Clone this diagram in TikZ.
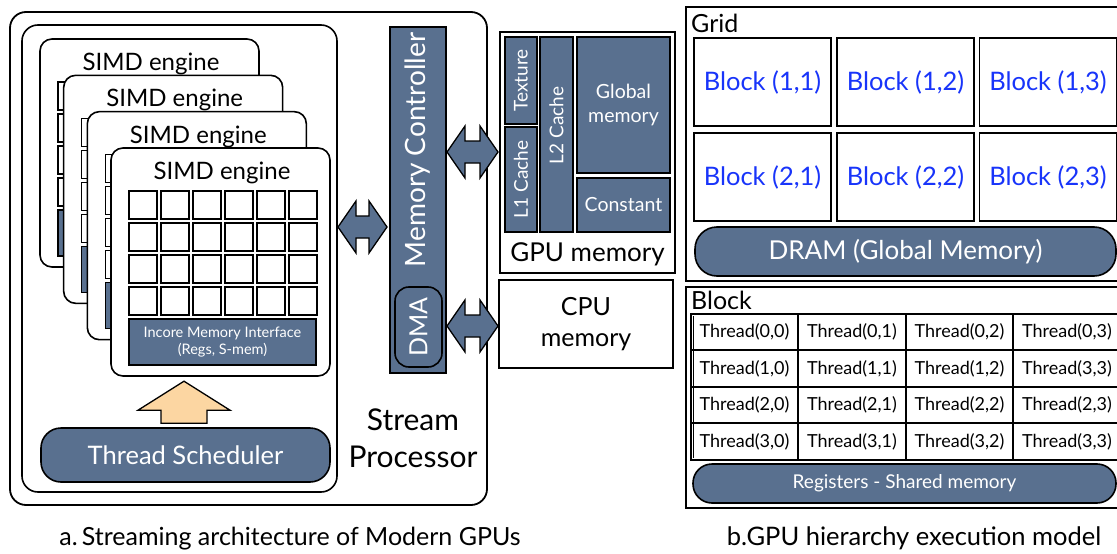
\documentclass[tikz,border=0pt]{standalone}
\usepackage{fontspec}
\setmainfont{Lato}
\usetikzlibrary{calc}
\definecolor{slate}{RGB}{89,112,143}
\definecolor{peach}{RGB}{252,214,162}
\definecolor{blockblue}{RGB}{24,52,250}
\newcommand{\fsz}[1]{\fontsize{#1}{#1}\selectfont}
% horizontal block double arrow starting at its left tip
\newcommand{\dblarrow}[2]{%
  \draw[dblarr] (#1) -- ++(18,-26) -- ++(0,15) -- ++(#2,0) -- ++(0,-15)
    -- ++(18,26) -- ++(-18,26) -- ++(0,-15) -- ++(-#2,0) -- ++(0,15) -- cycle;}
\tikzset{
  frame/.style={draw, line width=1.6, fill=white, inner sep=0},
  roundframe/.style={frame, rounded corners=14},
  engine/.style={frame, rounded corners=12, minimum width=219, minimum height=228},
  cell/.style={draw, line width=1.6, fill=white, minimum width=28, minimum height=28, inner sep=0},
  slatebox/.style={draw, line width=1.5, fill=slate, text=white, inner sep=0},
  pill/.style={slatebox, line width=1.6},
  dblarr/.style={draw, line width=1.3, fill=slate, line join=miter},
  uparr/.style={draw, line width=1.3, fill=peach, line join=miter},
  blk/.style={draw, line width=1.6, minimum width=137, minimum height=88, inner sep=0,
    text=blockblue, font=\fsz{25.5}},
  tcell/.style={draw, line width=1.1, minimum height=36.5, inner sep=0, font=\fsz{18}},
  lbl/.style={inner sep=0, font=\fsz{24}},
  vlbl/.style={inner sep=0, rotate=90, text=white, font=\fsz{19}},
}
\begin{document}
\begin{tikzpicture}[x=1pt, y=-1pt]
\useasboundingbox (0,0) rectangle (1117,554);
\clip (0,0) rectangle (1117,554);

% ---------- stream processor ----------
\node[roundframe, line width=1.8, rounded corners=16, minimum width=477, minimum height=493] (sp) at (248.5,258.5) {};
\node[roundframe, rounded corners=16, minimum width=315, minimum height=467] (core) at (179.5,258.5) {};

% stacked SIMD engines, back to front
\foreach \i in {0,1,2,3} {
  \pgfmathsetmacro\ex{40+23.67*\i}
  \pgfmathsetmacro\ey{39+36.33*\i}
  \node[engine] (eng\i) at (\ex+109.5,\ey+114) {};
  \node[lbl] (title\i) at (\ex+111,\ey+25) {SIMD engine};
  \foreach \r in {0,1,2,3} {
    \foreach \c in {0,...,5} {
      \node[cell] (cell\i-\r-\c) at (\ex+32+32*\c,\ey+57+32*\r) {};
    }
  }
  \node[slatebox, minimum width=187, minimum height=46, align=center, font=\fsz{14.5}]
    (inc\i) at (\ex+111.5,\ey+194) {Incore Memory Interface\\[2pt](Regs, S-mem)};
}

% thread scheduler and dispatch arrow
\node[pill, rounded corners=20, minimum width=289, minimum height=54, font=\fsz{25.5}] (ts) at (185.5,455) {Thread Scheduler};
\coordinate (upl) at ($(ts.north)+(-24.5,-4)$);
\draw[uparr] (upl) -- ++(0,-13) -- ++(-23,0) -- ++(46,-29) -- ++(46,29) -- ++(-23,0) -- ++(0,13) -- cycle;

% memory controller with DMA engine
\node[slatebox, line width=1.8, minimum width=56, minimum height=346] (mc) at (418,200) {};
\node[inner sep=0, rotate=90, text=white, font=\fsz{28}] (mclbl) at (418,150) {Memory Controller};
\node[slatebox, line width=1.6, rounded corners=14, minimum width=47, minimum height=80] (dma) at (418.5,327) {};
\node[inner sep=0, rotate=90, text=white, font=\fsz{25}] (dmalbl) at (418.5,327) {DMA};

\node[align=center, inner sep=0, font=\fsz{30}] (splbl) at (413,438) {Stream\\[7pt]Processor};

% ---------- GPU / CPU memory ----------
\node[frame, line width=1.6, minimum width=175, minimum height=241] (gm) at (587.5,152.5) {};
\node[slatebox, minimum width=32, minimum height=87] (tex) at (521,80.5) {};
\node[vlbl] at (tex) {Texture};
\node[slatebox, minimum width=32, minimum height=105] (l1) at (521,179.5) {};
\node[vlbl] at (l1) {L1 Cache};
\node[slatebox, minimum width=33, minimum height=195] (l2) at (556.5,134.5) {};
\node[vlbl] at ($(l2)+(0,-9)$) {L2 Cache};
\node[slatebox, minimum width=93, minimum height=136, align=center, font=\fsz{19.5}] (glob) at (623.5,105) {Global\\[4pt]memory};
\node[slatebox, minimum width=93, minimum height=54, font=\fsz{19.5}] (const) at (623.5,205) {Constant};
\node[inner sep=0, font=\fsz{26}] (gmlbl) at (587.5,254) {GPU memory};

\node[frame, minimum width=174, minimum height=88, align=center, font=\fsz{25}] (cm) at (586,324) {CPU\\[6pt]memory};

% data paths
\coordinate (arA) at (338,227);
\coordinate (arB) at (447,152);
\coordinate (arC) at (447,326);
\dblarrow{arA}{13}
\dblarrow{arB}{15}
\dblarrow{arC}{15}

% ---------- grid of blocks ----------
\node[frame, line width=1.8, minimum width=444, minimum height=274] (grid) at (908,144) {};
\node[inner sep=0, anchor=west, font=\fsz{25}] (gridlbl) at (691,23) {Grid};
\foreach \r/\y in {1/82,2/177} {
  \foreach \c/\x in {1/762.5,2/905.5,3/1048} {
    \node[blk] (b\r\c) at (\x,\y) {Block (\r,\c)};
  }
}
\node[pill, rounded corners=22, minimum width=421, minimum height=49, font=\fsz{26}] (dram) at (905.5,251.5) {DRAM (Global Memory)};

% ---------- block of threads ----------
\node[frame, line width=1.8, minimum width=444, minimum height=221] (blkp) at (908,397.5) {};
\node[inner sep=0, anchor=west, font=\fsz{25}] (blklbl) at (691,300) {Block};
\node[draw, line width=1.1, minimum width=434, minimum height=146, inner sep=0] (tbl) at (908,387) {};
\foreach \r/\y/\h in {0/332/36,1/368.5/37,2/405/36,3/441.5/37} {
  \node[tcell, minimum width=107, minimum height=\h] (t\r0) at (744.5,\y) {Thread(\r,0)};
  \node[tcell, minimum width=108, minimum height=\h] (t\r1) at (852,\y) {Thread(\r,1)};
  \node[tcell, minimum width=107, minimum height=\h] (t\r2) at (959.5,\y) {Thread(\r,2)};
}
\node[tcell, minimum width=112, minimum height=36, anchor=west] (t03) at (1013,332) {\hspace*{-5pt}Thread(0,3)};
\node[tcell, minimum width=112, minimum height=37, anchor=west] (t13) at (1013,368.5) {\hspace*{-5pt}Thread(3,3)};
\node[tcell, minimum width=112, minimum height=36, anchor=west] (t23) at (1013,405) {\hspace*{-5pt}Thread(2,3)};
\node[tcell, minimum width=112, minimum height=37, anchor=west] (t33) at (1013,441.5) {\hspace*{-5pt}Thread(3,3)};
\draw[line width=1.1] ($(tbl.north west)+(3,3)$) -- ($(tbl.south west)+(3,-3)$);
\node[pill, rounded corners=19, minimum width=423, minimum height=39, font=\fsz{19}] (regs) at (904.5,483.5) {Registers - Shared memory};

% ---------- captions ----------
\node[inner sep=0, anchor=base, font=\fsz{25}] (capa) at (290,545) {a.\,Streaming architecture of Modern GPUs};
\node[inner sep=0, anchor=base, font=\fsz{25.5}] (capb) at (914,545) {b.GPU hierarchy execution model};
\end{tikzpicture}
\end{document}
